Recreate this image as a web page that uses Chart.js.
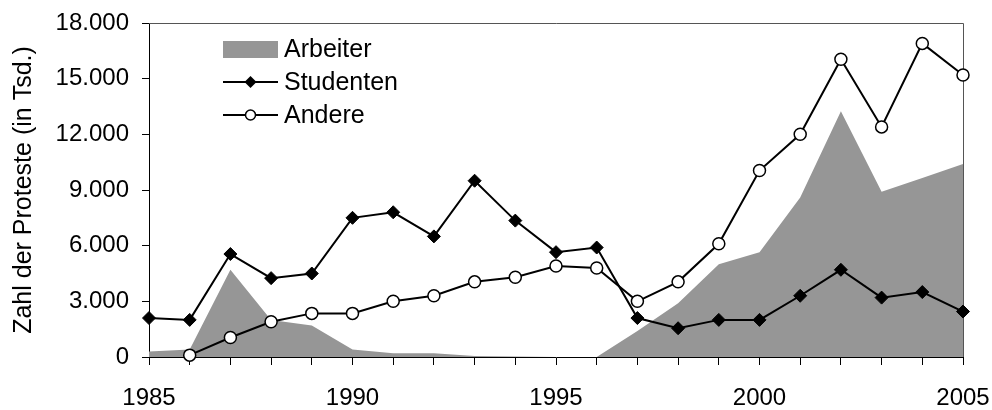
<!DOCTYPE html>
<html>
<head>
<meta charset="utf-8">
<script src="https://cdn.jsdelivr.net/npm/chart.js@4/dist/chart.umd.min.js"></script>
<style>
  html, body { margin: 0; padding: 0; background: #fff; }
  #wrap { width: 992px; height: 410px; }
</style>
</head>
<body>
<div id="wrap"><canvas id="chart" width="992" height="410"></canvas></div>
<script>
// Jahre und Werte (Zahl der Proteste)
const years = [1985, 1986, 1987, 1988, 1989, 1990, 1991, 1992, 1993, 1994, 1995,
               1996, 1997, 1998, 1999, 2000, 2001, 2002, 2003, 2004, 2005];
const arbeiter = [300, 400, 4700, 2000, 1700, 400, 200, 200, 50, 30, 0,
                  0, 1400, 2900, 5000, 5650, 8600, 13250, 8900, 9650, 10400];
const studenten = [2100, 2000, 5550, 4250, 4500, 7500, 7800, 6500, 9500, 7350, 5650,
                   5900, 2100, 1550, 2000, 2000, 3300, 4700, 3200, 3500, 2450];
const andere = [null, 100, 1050, 1900, 2350, 2350, 3000, 3300, 4050, 4300, 4900,
                4800, 3000, 4050, 6100, 10050, 12000, 16050, 12400, 16900, 15200];
const seriesNames = ['Arbeiter', 'Studenten', 'Andere'];
const yTicks = [0, 3000, 6000, 9000, 12000, 15000, 18000];

const FONT = 'Liberation Sans, Arial, sans-serif';

function pts(vals) {
    return years.map((y, i) => ({ x: y, y: vals[i] }));
}

function fmtDe(v) {
    return String(v).replace(/\B(?=(\d{3})+(?!\d))/g, '.');
}

// Rahmen oben/rechts und Legende innerhalb der Zeichenfläche
const framePlugin = {
    id: 'frame',
    beforeDatasetsDraw(chart) {
        const { ctx, chartArea: a } = chart;
        ctx.save();
        ctx.strokeStyle = '#555';
        ctx.lineWidth = 1;
        ctx.beginPath();
        ctx.moveTo(a.left, a.top + 0.5);
        ctx.lineTo(a.right + 0.5, a.top + 0.5);
        ctx.lineTo(a.right + 0.5, a.bottom);
        ctx.stroke();
        ctx.restore();
    },
    afterDraw(chart) {
        const ctx = chart.ctx;
        const x0 = 223, x1 = 278, rows = [49, 82, 115];
        ctx.save();
        ctx.font = '25px ' + FONT;
        ctx.textBaseline = 'middle';
        // Arbeiter
        ctx.fillStyle = '#969696';
        ctx.fillRect(x0, rows[0] - 8, x1 - x0, 17);
        // Studenten
        ctx.strokeStyle = '#000';
        ctx.lineWidth = 2;
        ctx.beginPath();
        ctx.moveTo(x0, rows[1]); ctx.lineTo(x1, rows[1]);
        ctx.stroke();
        const mx = (x0 + x1) / 2;
        ctx.fillStyle = '#000';
        ctx.beginPath();
        ctx.moveTo(mx, rows[1] - 6); ctx.lineTo(mx + 6, rows[1]);
        ctx.lineTo(mx, rows[1] + 6); ctx.lineTo(mx - 6, rows[1]);
        ctx.closePath(); ctx.fill();
        // Andere
        ctx.beginPath();
        ctx.moveTo(x0, rows[2]); ctx.lineTo(x1, rows[2]);
        ctx.stroke();
        ctx.lineWidth = 1.5;
        ctx.beginPath();
        ctx.arc(mx, rows[2], 5, 0, Math.PI * 2);
        ctx.fillStyle = '#fff'; ctx.fill(); ctx.stroke();
        ctx.fillStyle = '#000';
        seriesNames.forEach((n, i) => ctx.fillText(n, x1 + 6, rows[i] + 1));
        ctx.restore();
    }
};

new Chart(document.getElementById('chart'), {
    type: 'line',
    data: {
        datasets: [
            {
                label: seriesNames[0],
                data: pts(arbeiter),
                backgroundColor: '#969696',
                borderWidth: 0,
                borderColor: 'rgba(0,0,0,0)',
                fill: 'origin',
                pointRadius: 0,
                tension: 0,
                order: 3
            },
            {
                label: seriesNames[1],
                data: pts(studenten),
                borderColor: '#000',
                borderWidth: 2,
                pointStyle: 'rectRot',
                pointRadius: 6.5,
                pointBackgroundColor: '#000',
                pointBorderColor: '#000',
                pointBorderWidth: 1,
                fill: false,
                tension: 0,
                clip: false,
                order: 2
            },
            {
                label: seriesNames[2],
                data: pts(andere),
                borderColor: '#000',
                borderWidth: 2,
                pointStyle: 'circle',
                pointRadius: 6,
                pointBackgroundColor: '#fff',
                pointBorderColor: '#000',
                pointBorderWidth: 1.5,
                fill: false,
                tension: 0,
                clip: false,
                order: 1
            }
        ]
    },
    options: {
        responsive: false,
        animation: false,
        devicePixelRatio: 1,
        layout: { padding: { left: 0, top: 23, right: 29, bottom: 0 } },
        plugins: {
            legend: { display: false },
            tooltip: { enabled: false }
        },
        scales: {
            x: {
                type: 'linear',
                min: 1985,
                max: 2005,
                afterFit(scale) {
                    scale.height = 53;
                    scale.paddingLeft = 0;
                    scale.paddingRight = 0;
                },
                grid: {
                    display: true,
                    drawOnChartArea: false,
                    drawTicks: true,
                    tickLength: 8,
                    color: '#000'
                },
                border: { display: true, color: '#000', width: 1 },
                ticks: {
                    stepSize: 1,
                    autoSkip: false,
                    maxRotation: 0,
                    padding: 19,
                    color: '#000',
                    font: { family: FONT, size: 24 },
                    callback: v => (v % 5 === 0 ? String(v) : '')
                }
            },
            y: {
                min: 0,
                max: 18000,
                afterFit(scale) {
                    scale.width = 149;
                    scale.paddingTop = 0;
                    scale.paddingBottom = 0;
                },
                afterBuildTicks(scale) { scale.ticks = yTicks.map(v => ({ value: v })); },
                grid: {
                    display: true,
                    drawOnChartArea: false,
                    drawTicks: true,
                    tickLength: 7,
                    color: '#000'
                },
                border: { display: true, color: '#000', width: 1 },
                ticks: {
                    padding: 13,
                    color: '#000',
                    font: { family: FONT, size: 24 },
                    callback: v => fmtDe(v)
                },
                title: {
                    display: true,
                    text: 'Zahl der Proteste (in Tsd.)',
                    color: '#000',
                    font: { family: FONT, size: 25 },
                    padding: { top: 9, bottom: 0 }
                }
            }
        }
    },
    plugins: [framePlugin]
});
</script>
</body>
</html>
